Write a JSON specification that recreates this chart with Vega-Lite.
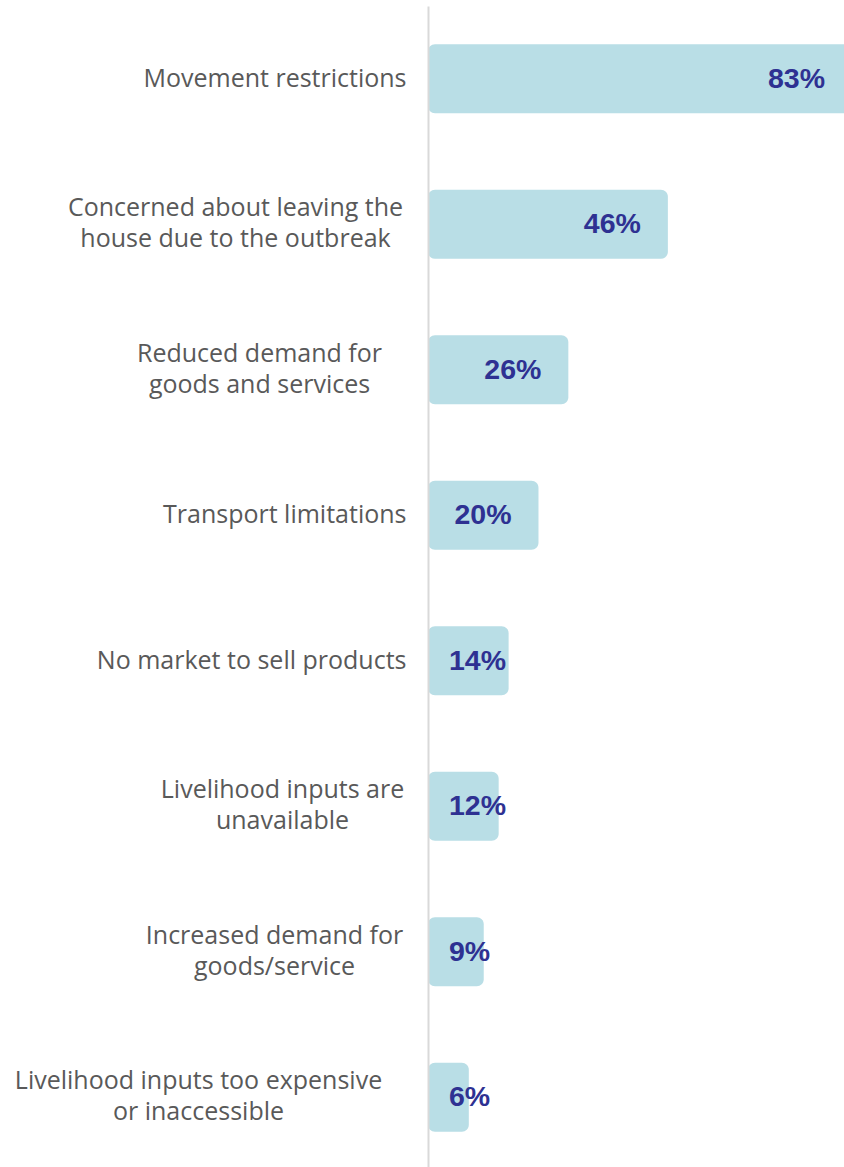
{
  "$schema": "https://vega.github.io/schema/vega-lite/v6.json",
  "autosize": "none",
  "width": 424,
  "height": 1164,
  "padding": {"left": 428, "top": 6, "right": 0, "bottom": 0},
  "background": "white",
  "config": {"view": {"stroke": null}},
  "data": {
    "values": [
      {"reason": "Movement restrictions", "share": 0.83},
      {"reason": "Concerned about leaving the|house due to the outbreak", "share": 0.46},
      {"reason": "Reduced demand for|goods and services", "share": 0.26},
      {"reason": "Transport limitations", "share": 0.20},
      {"reason": "No market to sell products", "share": 0.14},
      {"reason": "Livelihood inputs are|unavailable", "share": 0.12},
      {"reason": "Increased demand for|goods/service", "share": 0.09},
      {"reason": "Livelihood inputs too expensive|or inaccessible", "share": 0.06}
    ]
  },
  "encoding": {
    "y": {
      "field": "reason",
      "type": "nominal",
      "sort": null,
      "scale": {"paddingInner": 0.525, "paddingOuter": 0.2625},
      "axis": {
        "title": null,
        "ticks": false,
        "zindex": 1,
        "domainColor": "#d9d9d9",
        "domainWidth": 2,
        "labelFont": "Open Sans",
        "labelFontSize": 25,
        "labelColor": "#595959",
        "labelLineHeight": 31,
        "labelLimit": 0,
        "labelExpr": "split(datum.value, '|')",
        "labelAlign": {
          "condition": {"test": "indexof(datum.value, '|') >= 0", "value": "center"},
          "value": "right"
        },
        "labelOffset": {
          "condition": {"test": "indexof(datum.value, '|') >= 0", "value": -16},
          "value": 0
        },
        "labelPadding": {
          "condition": [
            {"test": "indexof(datum.value, 'Concerned') === 0", "value": 193},
            {"test": "indexof(datum.value, 'Reduced') === 0", "value": 169},
            {"test": "indexof(datum.value, 'Livelihood inputs are') === 0", "value": 146},
            {"test": "indexof(datum.value, 'Increased') === 0", "value": 154},
            {"test": "indexof(datum.value, 'Livelihood inputs too') === 0", "value": 230}
          ],
          "value": 22
        }
      }
    }
  },
  "layer": [
    {
      "mark": {"type": "bar", "color": "#b9dee6", "cornerRadiusEnd": 7},
      "encoding": {
        "x": {
          "field": "share",
          "type": "quantitative",
          "scale": {"domain": [-0.022, 0.83], "nice": false, "zero": false},
          "axis": null
        },
        "x2": {"datum": -0.022}
      }
    },
    {
      "transform": [{"filter": "datum.share >= 0.2"}],
      "mark": {"type": "text", "align": "right", "baseline": "middle", "dx": -27, "font": "Liberation Sans", "fontSize": 28.5, "fontWeight": "bold", "color": "#2e3192"},
      "encoding": {
        "x": {"field": "share", "type": "quantitative"},
        "text": {"field": "share", "type": "quantitative", "format": ".0%"}
      }
    },
    {
      "transform": [{"filter": "datum.share < 0.2"}],
      "mark": {"type": "text", "align": "left", "baseline": "middle", "dx": 10, "font": "Liberation Sans", "fontSize": 28.5, "fontWeight": "bold", "color": "#2e3192"},
      "encoding": {
        "x": {"datum": 0},
        "text": {"field": "share", "type": "quantitative", "format": ".0%"}
      }
    }
  ]
}
